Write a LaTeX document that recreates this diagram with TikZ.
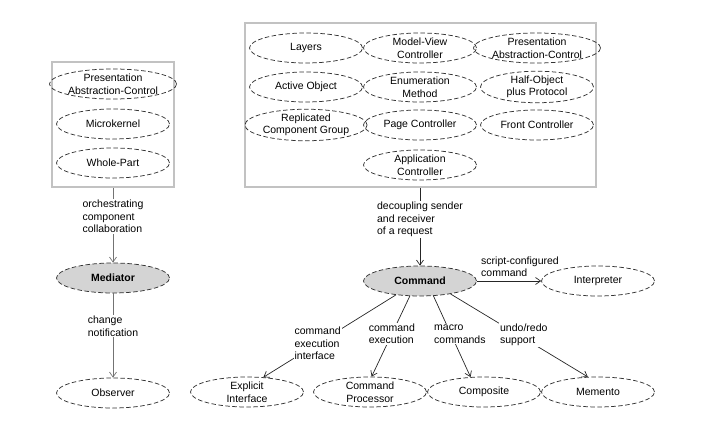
\documentclass[tikz,border=0pt]{standalone}
\usepackage{fontspec}
\setmainfont{Liberation Sans}
\usetikzlibrary{arrows.meta,shapes.geometric}

\begin{document}
\begin{tikzpicture}[x=1pt,y=-1pt,
	every node/.style={font=\fontsize{10.5}{12.5}\selectfont},
	pat/.style={ellipse,draw=black!80,dash pattern=on 4.5pt off 2.5pt,line width=0.75pt,minimum width=113pt,minimum height=30pt,inner sep=0pt,align=center},
	hub/.style={pat,fill=black!17,font=\fontsize{10.5}{12.5}\selectfont\bfseries},
	grp/.style={draw=black!24,line width=1.8pt,inner sep=0pt},
	rel/.style={draw=black!85,line width=0.7pt,-{Straight Barb[length=5pt,width=7pt]}},
	relgray/.style={rel,draw=black!55},
	lbl/.style={fill=white,inner sep=1pt,align=left}]
	\useasboundingbox (0,0) rectangle (705,431);
	\node[grp,minimum width=122pt,minimum height=125pt] (left) at (113,124.5) {};
	\node[grp,minimum width=351pt,minimum height=164pt] (right) at (420.5,105) {};
	\node[pat] (lpac) at (113,84) {Presentation\\Abstraction-Control};
	\node[pat] (micro) at (113,124) {Microkernel};
	\node[pat] (whole) at (113,163) {Whole-Part};
	\node[hub] (med) at (113,278) {Mediator};
	\node[pat] (obs) at (113,393) {Observer};
	\foreach \nm/\x/\y/\txt in {lay/306/48/{Layers},mvc/420/48/{Model-View\\Controller},pac/537/48/{Presentation\\Abstraction-Control},
		ao/306/87/{Active Object},em/420/87/{Enumeration\\Method},hop/537/87/{Half-Object\\plus Protocol},
		rcg/306/125/{Replicated\\Component Group},pc/420/125/{Page Controller},fc/537/125/{Front Controller},
		ac/420/165/{Application\\Controller}}
	\node[pat] (\nm) at (\x,\y) {\txt};
	\node[hub] (cmd) at (420,281) {Command};
	\node[pat] (int) at (598,281) {Interpreter};
	\node[pat] (ei) at (247,392) {Explicit\\Interface};
	\node[pat] (cp) at (370,392) {Command\\Processor};
	\node[pat] (comp) at (484,392) {Composite};
	\node[pat] (mem) at (598,392) {Memento};
	\draw[relgray] (left) -- node[lbl,pos=0.38] {orchestrating\\component\\collaboration} (med);
	\draw[relgray] (med) -- node[lbl,pos=0.39] {change\\notification} (obs);
	\draw[rel] (cmd |- right.south) -- node[lbl,pos=0.41] {decoupling sender\\and receiver\\of a request} (cmd);
	\draw[rel] (cmd) -- node[pos=0,anchor=south west,align=left,inner sep=1pt,xshift=3pt,yshift=3pt] {script-configured\\command} (int);
	\draw[rel] (cmd.210) -- node[lbl,pos=0.59] {command\\execution\\interface} (ei.42);
	\draw[rel] (cmd.236) -- node[lbl,pos=0.47] {command\\execution} (cp.84);
	\draw[rel] (cmd.-48) -- node[lbl,pos=0.47,xshift=9pt] {macro\\commands} (comp.132);
	\draw[rel] (cmd.-23) -- node[lbl,pos=0.49,xshift=6pt] {undo/redo\\support} (mem.124);
\end{tikzpicture}
\end{document}
